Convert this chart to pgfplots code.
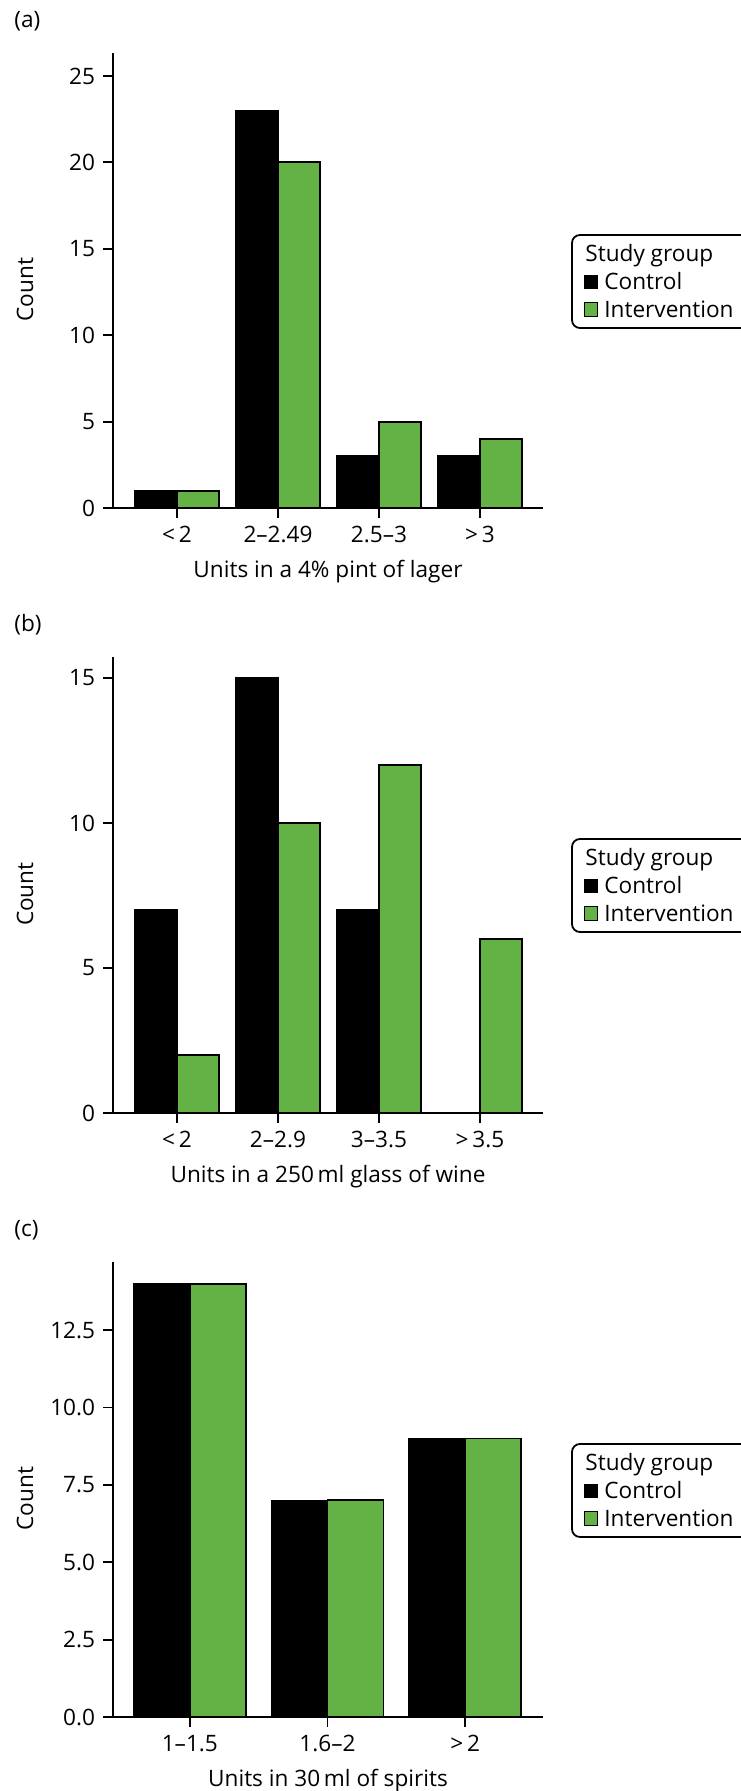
\documentclass[border=0pt]{standalone}
\usepackage{fontspec}
\setmainfont{Open Sans}
\usepackage{pgfplots}
\pgfplotsset{compat=1.18}
\definecolor{grn}{RGB}{100,178,70}
\pgfplotsset{
  mystyle/.style={
    scale only axis, width=215bp, height=227.5bp,
    anchor=south west,
    axis lines=left,
    axis line style={-, line width=0.9bp, black},
    tick align=outside, major tick length=5bp,
    tick style={line width=0.9bp, black},
    ymin=0,
    /pgf/number format/assume math mode=true,
    xlabel style={at={(axis description cs:0.5,0)}, anchor=base, yshift=-34.5bp},
    ylabel style={at={(axis description cs:-0.2047,0.48)}, anchor=center},
    ylabel={Count},
  },
  ctrl/.style={ybar, bar width=21bp, bar shift=-10.5bp, fill=black, draw=black, line width=0.8bp},
  intv/.style={ybar, bar width=21bp, bar shift=10.5bp, fill=grn, draw=black, line width=0.9bp},
  ctrlc/.style={ybar, bar width=28bp, bar shift=-14bp, fill=black, draw=black, line width=0.8bp},
  intvc/.style={ybar, bar width=28bp, bar shift=14bp, fill=grn, draw=black, line width=0.9bp},
}
\newcommand{\mylegend}[1]{%
  \begin{scope}[x=0.5bp,y=-0.5bp]
    \draw[line width=0.9bp, rounded corners=4bp] (572,#1+182) rectangle (752,#1+275);
    \node[anchor=base west, inner sep=0] at (585,#1+208.7) {Study group};
    \fill[black] (584,#1+222) rectangle (598,#1+236);
    \node[anchor=base west, inner sep=0] at (604,#1+237) {Control};
    \filldraw[fill=grn, draw=black, line width=0.8bp] (584.5,#1+249.5) rectangle (597.5,#1+263.5);
    \node[anchor=base west, inner sep=0] at (604,#1+264.7) {Intervention};
  \end{scope}}
\begin{document}
\fontsize{11.3bp}{13.5bp}\selectfont
\begin{tikzpicture}
\useasboundingbox (0,0) rectangle (370.5bp,-895.5bp);
% (a)
\begin{axis}[mystyle, at={(56.5bp,-254bp)},
  xmin=-0.634, xmax=3.624, ymax=26.33,
  xtick={0,1,2,3}, xticklabels={<\,2, 2–2.49, 2.5–3, >\,3},
  ytick={0,5,10,15,20,25},
  xlabel={Units in a 4\% pint of lager}]
\addplot[ctrl] coordinates {(0,1) (1,23) (2,3) (3,3)};
\addplot[intv] coordinates {(0,1) (1,20) (2,5) (3,4)};
\end{axis}
% (b)
\begin{axis}[mystyle, at={(56.5bp,-556.5bp)}, height=228bp,
  xmin=-0.634, xmax=3.624, ymax=15.72,
  xtick={0,1,2,3}, xticklabels={<\,2, 2–2.9, 3–3.5, >\,3.5},
  ytick={0,5,10,15},
  xlabel={Units in a 250\,ml glass of wine}]
\addplot[ctrl] coordinates {(0,7) (1,15) (2,7)};
\addplot[intv] coordinates {(0,2) (1,10) (2,12) (3,6)};
\end{axis}
% (c)
\begin{axis}[mystyle, at={(56.5bp,-858.5bp)},
  xmin=-0.558, xmax=2.565, ymax=14.7,
  xtick={0,1,2}, xticklabels={1–1.5, 1.6–2, >\,2},
  ytick={0,2.5,5,7.5,10,12.5},
  yticklabel style={/pgf/number format/.cd, fixed, fixed zerofill, precision=1},
  xlabel={Units in 30\,ml of spirits}]
\addplot[ctrlc] coordinates {(0,14) (1,7) (2,9)};
\addplot[intvc] coordinates {(0,14) (1,7) (2,9)};
\end{axis}
\node[anchor=base west, inner sep=0] at (7bp,-13.75bp) {(a)};
\node[anchor=base west, inner sep=0] at (7bp,-315.75bp) {(b)};
\node[anchor=base west, inner sep=0] at (7bp,-618.25bp) {(c)};
\mylegend{53}
\mylegend{657}
\mylegend{1262}
\end{tikzpicture}
\end{document}
